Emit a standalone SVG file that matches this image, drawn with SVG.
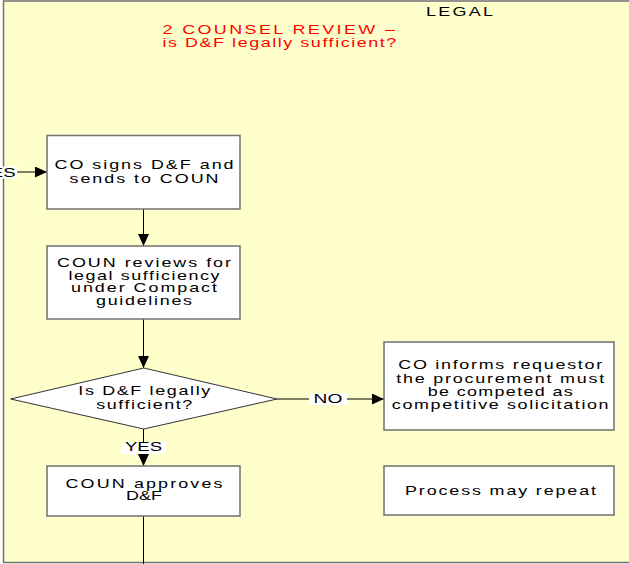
<svg xmlns="http://www.w3.org/2000/svg" width="629" height="564" viewBox="0 0 629 564">
<style>
.t{font-family:"Liberation Sans",Arial,sans-serif;font-size:12.8px;fill:#000}
.m{text-anchor:middle}
.red{fill:#ff0000}
.box{fill:#fff;stroke:#707070;stroke-width:1.5}
.dia{fill:#fff;stroke:#333;stroke-width:1}
.c{stroke:#000;stroke-width:1;fill:none}
.lbg{fill:#fff}
</style>
<defs>
<marker id="ah" markerWidth="12" markerHeight="11" refX="12" refY="5.5" orient="auto" markerUnits="userSpaceOnUse">
<path d="M0,0 L12,5.5 L0,11 z" fill="#000"/>
</marker>
</defs>
<rect x="0" y="0" width="629" height="564" fill="#fff"/>
<g id="lane">
<rect x="3.5" y="1" width="640" height="561.5" fill="#ffffcc" stroke="#707070" stroke-width="1.5"/>
<g transform="translate(426 0) scale(1.4 1)"><text class="t" x="0" y="16" textLength="47.9" lengthAdjust="spacing">LEGAL</text></g>
<g transform="translate(162.4 0) scale(1.4 1)"><text class="t red" x="0" y="34.3" textLength="166.1" lengthAdjust="spacing">2 COUNSEL REVIEW –</text>
<text class="t red" x="0" y="46.7" textLength="167.1" lengthAdjust="spacing">is D&amp;F legally sufficient?</text></g>
</g>
<g id="connectors">
<line class="c" x1="-10" y1="172" x2="47" y2="172" marker-end="url(#ah)"/>
<line class="c" x1="143.5" y1="209" x2="143.5" y2="246" marker-end="url(#ah)"/>
<line class="c" x1="143.5" y1="319" x2="143.5" y2="368" marker-end="url(#ah)"/>
<line class="c" x1="143.5" y1="429" x2="143.5" y2="466" marker-end="url(#ah)"/>
<line class="c" x1="277" y1="399" x2="384" y2="399" marker-end="url(#ah)"/>
<line class="c" x1="143.5" y1="516" x2="143.5" y2="570"/>
<rect class="lbg" x="-30" y="166.5" width="47" height="12"/>
<g transform="translate(-3 0) scale(1.45 1)"><text class="t m" x="0" y="176.7">YES</text></g>
<rect class="lbg" x="309" y="393.3" width="38" height="11.7"/>
<g transform="translate(328 0) scale(1.5 1)"><text class="t m" x="0" y="403.2">NO</text></g>
<rect class="lbg" x="121" y="442" width="45" height="12"/>
<g transform="translate(143.5 0) scale(1.45 1)"><text class="t m" x="0" y="451.2">YES</text></g>
</g>
<g id="n1">
<rect class="box" x="47" y="135.5" width="193" height="73.5"/>
<g transform="translate(144 0) scale(1.4 1)">
<text class="t m" x="0" y="169.5" textLength="127.9" lengthAdjust="spacing">CO signs D&amp;F and</text>
<text class="t m" x="0" y="182.9" textLength="106.4" lengthAdjust="spacing">sends to COUN</text>
</g>
</g>
<g id="n2">
<rect class="box" x="47" y="246" width="193" height="73"/>
<g transform="translate(144 0) scale(1.4 1)">
<text class="t m" x="0" y="266.9" textLength="124.3" lengthAdjust="spacing">COUN reviews for</text>
<text class="t m" x="0" y="279.7" textLength="107.9" lengthAdjust="spacing">legal sufficiency</text>
<text class="t m" x="0" y="292.5" textLength="104.3" lengthAdjust="spacing">under Compact</text>
<text class="t m" x="0" y="305.2" textLength="68.6" lengthAdjust="spacing">guidelines</text>
</g>
</g>
<g id="d1">
<polygon class="dia" points="10.7,399 143.8,368 277,399 143.8,429"/>
<g transform="translate(144.3 0) scale(1.4 1)">
<text class="t m" x="0" y="395.5" textLength="94.3" lengthAdjust="spacing">Is D&amp;F legally</text>
<text class="t m" x="0" y="408.9" textLength="68.6" lengthAdjust="spacing">sufficient?</text>
</g>
</g>
<g id="n3">
<rect class="box" x="384" y="342" width="230" height="88"/>
<g transform="translate(500.2 0) scale(1.4 1)">
<text class="t m" x="0" y="369.5" textLength="145.7" lengthAdjust="spacing">CO informs requestor</text>
<text class="t m" x="0" y="382.9" textLength="148.6" lengthAdjust="spacing">the procurement must</text>
<text class="t m" x="0" y="396.2" textLength="103.6" lengthAdjust="spacing">be competed as</text>
<text class="t m" x="0" y="409.5" textLength="154.8" lengthAdjust="spacing">competitive solicitation</text>
</g>
</g>
<g id="n4">
<rect class="box" x="47" y="466" width="193" height="50"/>
<g transform="translate(144 0) scale(1.4 1)">
<text class="t m" x="0" y="488.5" textLength="112.1" lengthAdjust="spacing">COUN approves</text>
<text class="t m" x="0" y="500.5">D&amp;F</text>
</g>
</g>
<g id="n5">
<rect class="box" x="384" y="466" width="230" height="49"/>
<g transform="translate(500.5 0) scale(1.4 1)">
<text class="t m" x="0" y="495.2" textLength="136.4" lengthAdjust="spacing">Process may repeat</text>
</g>
</g>
</svg>
